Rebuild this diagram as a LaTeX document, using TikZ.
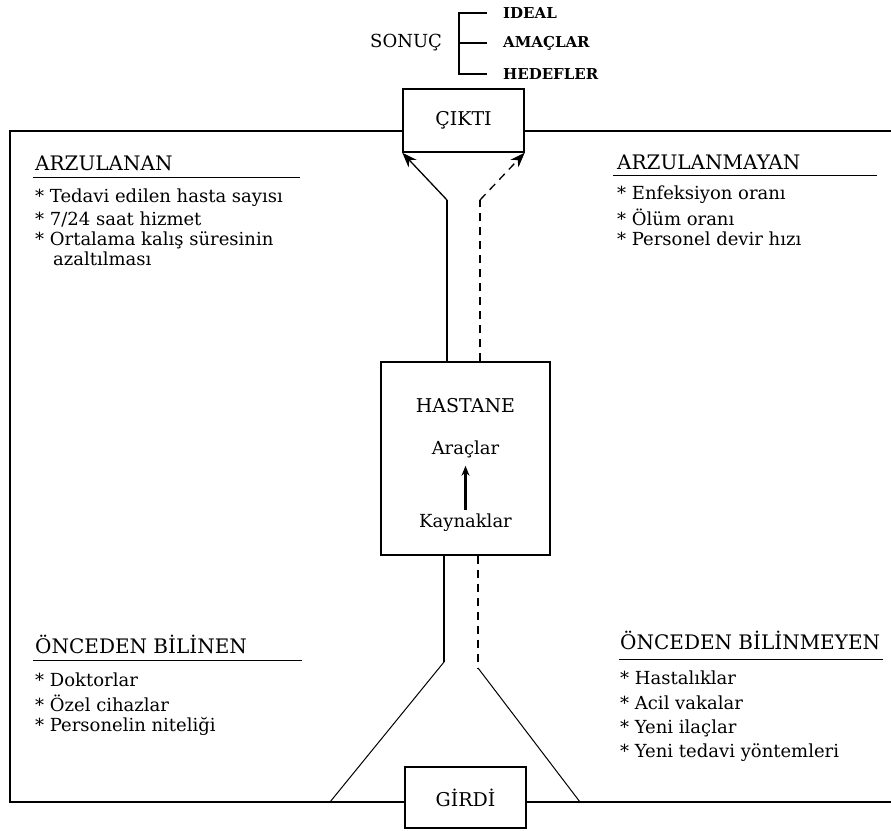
\documentclass[tikz,border=0pt]{standalone}
\usepackage{fontspec}
\setmainfont{DejaVu Serif}
\usetikzlibrary{arrows.meta,positioning}

\tikzset{
  kutu/.style={draw,line width=1.4pt,inner sep=0pt,font=\fontsize{19}{21}\selectfont},
  baslik/.style={anchor=west,inner sep=0pt,font=\fontsize{20}{22}\selectfont},
  madde/.style={anchor=west,inner sep=0pt,font=\fontsize{18}{20}\selectfont},
  sonucyazi/.style={anchor=west,inner ysep=0pt,inner xsep=16pt,font=\bfseries\fontsize{15}{17}\selectfont},
  cizgi/.style={line width=1.3pt},
  ince/.style={line width=1pt},
  kesik/.style={line width=1.6pt,dash pattern=on 8pt off 6pt},
}

\begin{document}
\begin{tikzpicture}[x=1pt,y=-1pt,>={Stealth[length=15pt,width=11pt]}]
  \useasboundingbox (0,0) rectangle (891,830);

  % sonuc ve kollari
  \node[madde] (sonuc) at (370,43) {SONUÇ};
  \node[sonucyazi] (ideal) at (487,13) {IDEAL};
  \node[sonucyazi] (amac) at (487,43) {AMAÇLAR};
  \node[sonucyazi] (hedef) at (487,74) {HEDEFLER};
  \coordinate (kol) at (459,0);
  \draw[cizgi] (ideal.west) -- (ideal.west -| kol) -- (hedef.west -| kol) -- (hedef.west);
  \draw[cizgi] (amac.west) -- (amac.west -| kol);

  % kutular
  \node[kutu,minimum width=121pt,minimum height=63pt] (cikti) at (463.5,120.5) {ÇIKTI};
  \node[kutu,minimum width=169pt,minimum height=193pt] (hastane) at (465.5,458.5) {};
  \node[kutu,minimum width=121pt,minimum height=61pt] (girdi) at (465.5,797.5) {GİRDİ};
  \node[kutu,draw=none,anchor=center] (hst) at (465.5,406) {HASTANE};
  \node[madde,anchor=center] (arac) at (465.5,449) {Araçlar};
  \node[madde,anchor=center] (kaynak) at (465.5,523) {Kaynaklar};
  \draw[line width=2.2pt,-{Stealth[length=10pt,width=8pt]},shorten <=4pt,shorten >=8pt]
    (kaynak.north) -- (arac.south);

  % cerceve
  \coordinate (ust) at (10,131);
  \coordinate (alt) at (10,802);
  \draw[cizgi] (cikti.west |- ust) -- (ust) -- (alt) -- (girdi.west |- alt);
  \draw[cizgi] (cikti.east |- ust) -- (891,131);
  \draw[cizgi] (girdi.east |- alt) -- (891,802);

  % hastaneden ciktiya
  \coordinate (sk) at (447,200);
  \coordinate (kk) at (480,200);
  \draw[cizgi] (hastane.north -| sk) -- (sk);
  \draw[cizgi,->] (sk) -- (cikti.south west);
  \draw[kesik] (hastane.north -| kk) -- (kk);
  \draw[cizgi,dash pattern=on 8pt off 6pt,->] (kk) -- (cikti.south east);

  % girdiden hastaneye
  \coordinate (sa) at (444,662);
  \coordinate (ka) at (478,668);
  \coordinate (ga) at (330,802);
  \coordinate (gb) at (580,802);
  \draw[cizgi] (hastane.south -| sa) -- (sa);
  \draw[ince] (sa) -- (ga);
  \draw[kesik] (hastane.south -| ka) -- (ka);
  \draw[ince] (ka) -- (gb);

  % arzulanan
  \node[baslik] (arz) at (35,163) {ARZULANAN};
  \draw[ince] (33,177) -- (300,177);
  \foreach \t [count=\i] in {* Tedavi edilen hasta sayısı,* 7/24 saat hizmet,* Ortalama kalış süresinin}
    \node[madde] (arz-\i) at (35,177+21*\i) {\t};
  \node[madde] (arz-4) at (53,259) {azaltılması};

  % arzulanmayan
  \node[baslik] (arzm) at (617,162) {ARZULANMAYAN};
  \draw[ince] (613,175) -- (877,175);
  \foreach \t [count=\i] in {* Enfeksiyon oranı,* Ölüm oranı,* Personel devir hızı}
    \node[madde] (arzm-\i) at (617,173+22*\i) {\t};

  % onceden bilinen
  \node[baslik] (obil) at (35,644) {ÖNCEDEN BİLİNEN};
  \draw[ince] (33,660) -- (302,660);
  \foreach \t [count=\i] in {* Doktorlar,* Özel cihazlar,* Personelin niteliği}
    \node[madde] (obil-\i) at (35,657+23*\i) {\t};

  % onceden bilinmeyen
  \node[baslik] (obm) at (620,640) {ÖNCEDEN BİLİNMEYEN};
  \draw[ince] (619,659) -- (883,659);
  \foreach \t [count=\i] in {* Hastalıklar,* Acil vakalar,* Yeni ilaçlar,* Yeni tedavi yöntemleri}
    \node[madde] (obm-\i) at (620,653+25*\i) {\t};
\end{tikzpicture}
\end{document}
